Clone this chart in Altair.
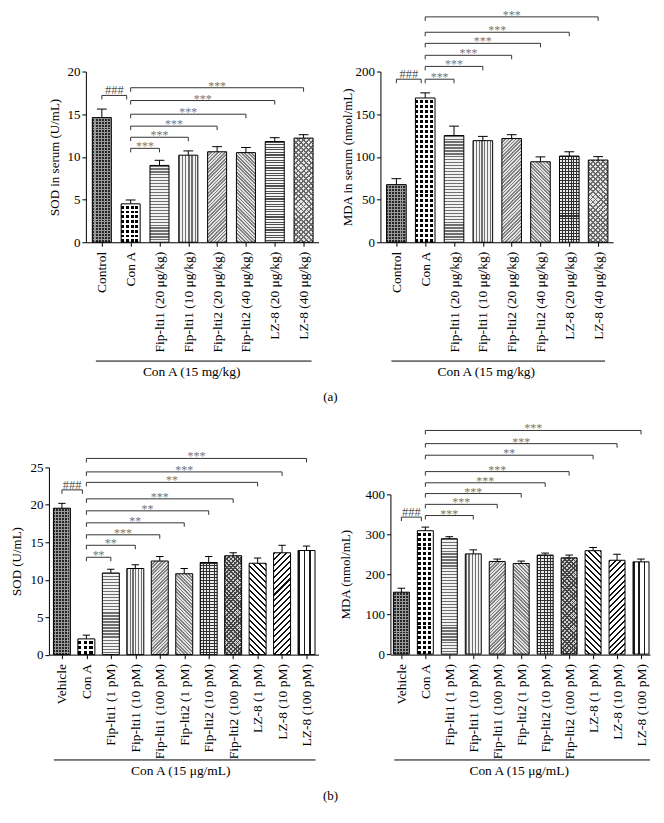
import math
import altair as alt
import pandas as pd

FONT = "Liberation Serif"

# ---------------- data ----------------
a_groups = ["Control", "Con A", "Fip-lti1 (20 μg/kg)", "Fip-lti1 (10 μg/kg)",
            "Fip-lti2 (20 μg/kg)", "Fip-lti2 (40 μg/kg)", "LZ-8 (20 μg/kg)", "LZ-8 (40 μg/kg)"]
a_sod = [14.6, 4.5, 9.0, 10.2, 10.6, 10.5, 11.8, 12.2]
a_sod_err = [1.0, 0.45, 0.6, 0.5, 0.6, 0.6, 0.45, 0.4]
a_sod_sig_to = [2, 3, 4, 5, 6, 7]
a_sod_sig_y = [11.0, 12.3, 13.6, 15.0, 16.6, 18.1]
a_sod_sig_lab = ["***", "***", "***", "***", "***", "***"]
a_sod_hash_y = 17.2

a_mda = [67.5, 169, 125, 119, 121.5, 94.3, 101, 96.3]
a_mda_err = [7, 6, 11, 5, 4.5, 5.7, 5, 4]
a_mda_sig_to = [2, 3, 4, 5, 6, 7]
a_mda_sig_y = [191, 206, 219, 233, 246, 264]
a_mda_sig_lab = ["***", "***", "***", "***", "***", "***"]
a_mda_hash_y = 191

b_groups = ["Vehicle", "Con A", "Fip-lti1 (1 pM)", "Fip-lti1 (10 pM)", "Fip-lti1 (100 pM)",
            "Fip-lti2 (1 pM)", "Fip-lti2 (10 pM)", "Fip-lti2 (100 pM)",
            "LZ-8 (1 pM)", "LZ-8 (10 pM)", "LZ-8 (100 pM)"]
b_sod = [19.55, 2.1, 10.9, 11.5, 12.5, 10.8, 12.3, 13.2, 12.2, 13.6, 13.9]
b_sod_err = [0.65, 0.5, 0.5, 0.5, 0.6, 0.7, 0.8, 0.4, 0.7, 1.0, 0.6]
b_sod_sig_to = [2, 3, 4, 5, 6, 7, 8, 9, 10]
b_sod_sig_y = [13.0, 14.6, 16.0, 17.6, 19.2, 20.8, 23.0, 24.4, 26.2]
b_sod_sig_lab = ["**", "**", "***", "**", "**", "***", "**", "***", "***"]
b_sod_hash_y = 22.0

b_mda = [155, 309, 289, 251, 232, 227, 248, 241, 259, 235, 231]
b_mda_err = [10, 9, 5, 10, 6, 6, 5, 7, 8, 15, 7]
b_mda_sig_to = [3, 4, 5, 6, 7, 8, 9, 10]
b_mda_sig_y = [347, 375, 402, 429, 457, 498, 527, 560]
b_mda_sig_lab = ["***", "***", "***", "***", "***", "**", "***", "***"]
b_mda_hash_y = 343

# ---------------- styles ----------------
CLEAR = "rgba(255,255,255,0)"
PATTERNS = {
    "dark": [("v", 3.0, "#262626", "#9a9a9a", 0.67), ("h", 3.0, "#9a9a9a", CLEAR, 0.34)],
    "check": [("v", 5.0, "#000000", "#ffffff", 0.6), ("h", 5.0, "#ffffff", CLEAR, 0.4)],
    "hstripe": [("h", 3.0, "#707070", "#f2f2f2", 0.4)],
    "hstripe2": [("h", 2.6, "#505050", "#f5f5f5", 0.45)],
    "vstripe": [("v", 3.0, "#707070", "#f2f2f2", 0.4)],
    "fine1": [("d1", 2.4, "#808080", "#e2e2e2", 0.5)],
    "fine2": [("d2", 2.4, "#808080", "#e2e2e2", 0.5)],
    "plaid": [("h", 3.0, "#303030", "#ebebeb", 0.34), ("v", 3.0, "#303030", CLEAR, 0.34)],
    "cross": [("d1", 3.6, "#6a6a6a", "#e6e6e6", 0.35), ("d2", 3.6, "#6a6a6a", CLEAR, 0.35)],
    "crossdark": [("d1", 3.0, "#444444", "#cfcfcf", 0.4), ("d2", 3.0, "#444444", CLEAR, 0.4)],
    "bold2": [("d2", 4.2, "#111111", "#ffffff", 0.35)],
    "bold1": [("d1", 4.2, "#111111", "#ffffff", 0.35)],
    "vbold": [("v", 5.5, "#1a1a1a", "#ffffff", 0.28)],
}
a_sod_pats = ["dark", "check", "hstripe", "vstripe", "fine1", "fine2", "hstripe2", "cross"]
a_mda_pats = ["dark", "check", "hstripe", "vstripe", "fine1", "fine2", "plaid", "cross"]
b_pats = ["dark", "check", "hstripe", "vstripe", "fine1", "fine2", "plaid", "crossdark",
          "bold2", "bold1", "vbold"]


def gradient(spec, w, h):
    kind, period, c_line, c_bg, frac = spec
    if kind == "h":
        n = h / period
        x1, y1, x2, y2 = 0, 0, 0, 1
    elif kind == "v":
        n = w / period
        x1, y1, x2, y2 = 0, 0, 1, 0
    else:
        k = (w + h) * w / (w * w + h * h)
        n = (w + h) / (period * math.sqrt(2))
        if kind == "d1":
            x1, y1, x2, y2 = 0, 0, k, k * h / w
        else:
            x1, y1, x2, y2 = 1, 0, 1 - k, k * h / w
    n = max(1, int(round(n)))
    stops = []
    for i in range(n):
        a = round(i / n, 5)
        b = round((i + frac) / n, 5)
        c = round((i + 1) / n, 5)
        stops += [{"offset": a, "color": c_line}, {"offset": b, "color": c_line},
                  {"offset": b, "color": c_bg}, {"offset": c, "color": c_bg}]
    return {"gradient": "linear", "x1": round(x1, 5), "y1": round(y1, 5),
            "x2": round(x2, 5), "y2": round(y2, 5), "stops": stops}


def make_panel(groups, vals, errs, sig_to, sig_y, sig_lab, hash_y, pats, L,
               group_label, tag=None):
    n = len(groups)
    W, H = L["width"], L["height"]
    df = pd.DataFrame({"idx": list(range(n)), "group": groups, "value": vals, "err": errs})
    xs = alt.Scale(domain=L["xdom"], nice=False, zero=False)
    ykw = {"domain": L["ydom"], "nice": False, "zero": True}
    if L.get("yrange"):
        ykw["range"] = L["yrange"]
    ys = alt.Scale(**ykw)
    pxx = W / (L["xdom"][1] - L["xdom"][0])
    yspan = (L["yrange"][0] - L["yrange"][1]) if L.get("yrange") else H
    pxy = yspan / (L["ydom"][1] - L["ydom"][0])
    hw, cap = L["hw"], L["cap"]

    label_expr = "[" + ",".join(f"'{g}'" for g in groups) + "][datum.value]"
    xaxis = alt.Axis(title=None, values=list(range(n)), labelExpr=label_expr, labelAngle=-90,
                     labelPadding=5, tickSize=4, labelFlush=False, labelOverlap=False,
                     labelFontSize=13.5, grid=False)
    yaxis = alt.Axis(title=L["title"], values=L["yticks"], tickSize=4, labelPadding=2,
                     titleX=L["titleX"], titleY=L["titleY"], titleBaseline="middle",
                     grid=False)

    def X(f):
        return alt.X(f, scale=xs, axis=xaxis)

    def Y(f):
        return alt.Y(f, scale=ys, axis=yaxis)

    base = alt.Chart(df).transform_calculate(
        x0=f"datum.idx - {hw}", x1=f"datum.idx + {hw}", base="0",
        up="datum.value + datum.err", c0=f"datum.idx - {cap}", c1=f"datum.idx + {cap}")

    layers = []
    for i in range(n):
        w = 2 * hw * pxx
        h = vals[i] * pxy
        for spec in PATTERNS[pats[i]]:
            layers.append(
                base.transform_filter(f"datum.idx == {i}")
                .mark_bar(fill=gradient(spec, w, h), strokeWidth=0)
                .encode(x=X("x0:Q"), x2="x1:Q", y=Y("value:Q"), y2="base:Q"))

    layers.append(
        base.mark_bar(fill="transparent", stroke="black", strokeWidth=1)
        .encode(x=X("x0:Q"), x2="x1:Q", y=Y("value:Q"), y2="base:Q"))
    # error bars (upper only)
    layers.append(
        base.mark_rule(color="black", strokeWidth=1)
        .encode(x=X("idx:Q"), y=Y("value:Q"), y2="up:Q"))
    layers.append(
        base.mark_rule(color="black", strokeWidth=1)
        .encode(x=X("c0:Q"), x2="c1:Q", y=Y("up:Q")))

    # significance brackets
    ci = groups.index("Con A")
    br = pd.DataFrame({"l": [ci] * len(sig_to), "r": sig_to, "y": sig_y, "label": sig_lab})
    hb = pd.DataFrame({"l": [0], "r": [ci], "y": [hash_y], "label": ["###"]})
    for bdf, shift, dy, col, fs in [(br, 0, 2, "#777777", 12), (hb, -4, -1, "#555555", 12.5)]:
        bb = alt.Chart(bdf).transform_calculate(m="(datum.l + datum.r) / 2")
        layers.append(bb.mark_rule(color="#333333", strokeWidth=1, x2Offset=shift).encode(
            x=X("l:Q"), x2="r:Q", y=Y("y:Q")))
        layers.append(bb.mark_rule(color="#333333", strokeWidth=1, y2Offset=4).encode(
            x=X("l:Q"), y=Y("y:Q"), y2="y:Q"))
        layers.append(bb.mark_rule(color="#333333", strokeWidth=1, y2Offset=4, xOffset=shift).encode(
            x=X("r:Q"), y=Y("y:Q"), y2="y:Q"))
        layers.append(bb.mark_text(font=FONT, fontSize=fs, color=col, baseline="alphabetic",
                                   dy=dy, dx=shift / 2).encode(
            x=X("m:Q"), y=Y("y:Q"), text="label:N"))

    # group annotation under the labels
    A = L["annot"]
    ad = pd.DataFrame({"t": [group_label]})
    layers.append(alt.Chart(ad).mark_rule(color="black", strokeWidth=1).encode(
        x=alt.value(A[0]), x2=alt.value(A[1]), y=alt.value(A[2])))
    layers.append(alt.Chart(ad).mark_text(font=FONT, fontSize=13.5, baseline="middle",
                                          color="black").encode(
        x=alt.value(A[3]), y=alt.value(A[4]), text="t:N"))
    if tag is not None:
        td = pd.DataFrame({"t": [tag[0]]})
        layers.append(alt.Chart(td).mark_text(font=FONT, fontSize=13, baseline="middle",
                                              color="black").encode(
            x=alt.value(tag[1]), y=alt.value(tag[2]), text="t:N"))
    return alt.layer(*layers).properties(width=W, height=H)


def spacer(w):
    return alt.Chart(pd.DataFrame({"s": [0]})).mark_point(opacity=0, size=1).encode(
        x=alt.value(0), y=alt.value(0)).properties(width=w, height=10)


LA1 = dict(width=233, height=171, xdom=[-0.554, 7.519], ydom=[0, 20], yticks=[0, 5, 10, 15, 20],
           hw=0.33, cap=0.17, title="SOD in serum (U/mL)", titleX=-31, titleY=85.5,
           annot=[10, 226, 290, 106, 301])
LA2 = dict(width=233, height=171, xdom=[-0.554, 7.519], ydom=[0, 200],
           yticks=[0, 50, 100, 150, 200], hw=0.34, cap=0.17, title="MDA in serum (nmol/mL)",
           titleX=-33, titleY=85.5, annot=[11, 225, 290, 106, 301])
LB1 = dict(width=270, height=187.5, xdom=[-0.531, 10.49], ydom=[0, 25],
           yticks=[0, 5, 10, 15, 20, 25], hw=0.347, cap=0.15, title="SOD (U/mL)",
           titleX=-32.5, titleY=93.75, annot=[5, 267, 293, 132, 304.5])
LB2 = dict(width=260, height=187.5, xdom=[-0.458, 10.375], ydom=[0, 400], yrange=[187, 27],
           yticks=[0, 100, 200, 300, 400], hw=0.333, cap=0.16, title="MDA (nmol/mL)",
           titleX=-44.5, titleY=107, annot=[4, 260, 293, 129, 304.5])

a1 = make_panel(a_groups, a_sod, a_sod_err, a_sod_sig_to, a_sod_sig_y, a_sod_sig_lab,
                a_sod_hash_y, a_sod_pats, LA1, "Con A (15 mg/kg)")
a2 = make_panel(a_groups, a_mda, a_mda_err, a_mda_sig_to, a_mda_sig_y, a_mda_sig_lab,
                a_mda_hash_y, a_mda_pats, LA2, "Con A (15 mg/kg)", tag=("(a)", -50, 325.7))
b1 = make_panel(b_groups, b_sod, b_sod_err, b_sod_sig_to, b_sod_sig_y, b_sod_sig_lab,
                b_sod_hash_y, b_pats, LB1, "Con A (15 μg/mL)")
b2 = make_panel(b_groups, b_mda, b_mda_err, b_mda_sig_to, b_mda_sig_y, b_mda_sig_lab,
                b_mda_hash_y, b_pats, LB2, "Con A (15 μg/mL)", tag=("(b)", -60, 329))

row_a = alt.hconcat(spacer(37), a1, spacer(62), a2, spacing=0, bounds="flush")
row_b = alt.hconcat(b1, spacer(72), b2, spacing=0, bounds="flush")

chart = alt.vconcat(row_a, row_b, spacing=396.5, bounds="flush").properties(
    padding={"left": 2, "top": 0, "right": 5, "bottom": 5}
).configure_view(stroke=None).configure_axis(
    labelFont=FONT, titleFont=FONT, labelFontSize=13, titleFontSize=13,
    titleFontWeight="normal", labelColor="black", titleColor="black",
    domainColor="black", tickColor="black", domainWidth=1, tickWidth=1, grid=False
).configure_text(font=FONT)

chart.save("out.html", embed_options={"renderer": "svg", "actions": False})
